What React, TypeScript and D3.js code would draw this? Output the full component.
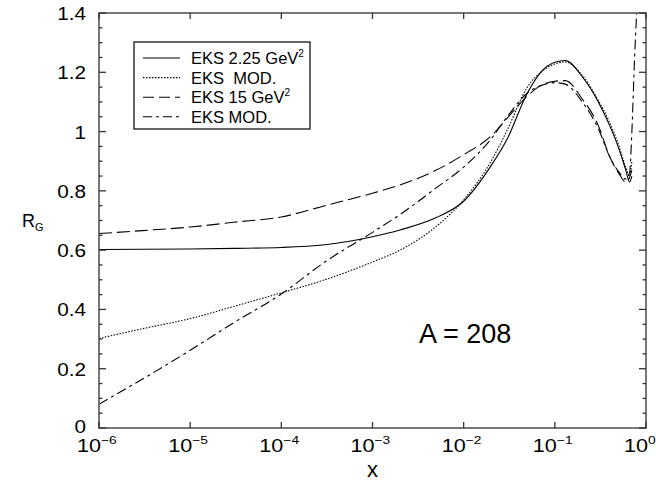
import React, { useRef, useEffect } from 'react';
import * as d3 from 'd3';

// shared x grid (log spaced)
const xGrid = [1e-6, 3e-6, 1e-5, 3e-5, 1e-4, 3e-4, 1e-3, 2e-3, 5e-3, 1e-2, 2e-2, 3e-2, 5e-2, 0.07, 0.1, 0.13, 0.2, 0.3, 0.4, 0.5, 0.6, 0.66, 0.7];

const eks225 = [0.602, 0.603, 0.604, 0.606, 0.609, 0.618, 0.645, 0.668, 0.71, 0.765, 0.885, 0.975, 1.13, 1.2, 1.234, 1.24, 1.185, 1.1, 1.02, 0.945, 0.87, 0.83, 0.85];
const eksMod225 = [0.302, 0.335, 0.369, 0.41, 0.456, 0.5, 0.56, 0.6, 0.68, 0.77, 0.9, 1.005, 1.15, 1.2, 1.228, 1.235, 1.19, 1.105, 1.03, 0.955, 0.88, 0.85, 0.9];
const eks15 = [0.656, 0.666, 0.678, 0.694, 0.712, 0.75, 0.792, 0.82, 0.87, 0.922, 0.985, 1.045, 1.12, 1.155, 1.17, 1.172, 1.11, 1.02, 0.915, 0.86, 0.83, 0.845, 0.87];
const eksMod15 = [0.08, 0.165, 0.262, 0.355, 0.452, 0.56, 0.66, 0.72, 0.81, 0.88, 0.975, 1.05, 1.13, 1.155, 1.165, 1.16, 1.1, 1.01, 0.915, 0.865, 0.84, 0.86, 1.0];
const eksMod15TailX = [0.75, 0.79];
const eksMod15Tail = [1.25, 1.4];

const xTicks = [1e-6, 1e-5, 1e-4, 1e-3, 1e-2, 1e-1, 1];
const yTicks = [0, 0.2, 0.4, 0.6, 0.8, 1, 1.2, 1.4];
const yMinor = d3.range(0, 1.401, 0.05);

const legendLabels = ['EKS 2.25 GeV', 'EKS  MOD.', 'EKS 15 GeV', 'EKS MOD.'];
const dashes = ['none', '1.5,1.5', '13,5', '10,4,3,4'];

export default function App() {
  const svgRef = useRef<SVGSVGElement>(null);
  const width = 656, height = 483;
  const m = { left: 99, right: 10, top: 13, bottom: 55 };

  useEffect(() => {
    const svg = d3.select(svgRef.current);
    svg.selectAll('*').remove();
    const font = "'Liberation Sans', Arial, sans-serif";

    const x = d3.scaleLog().domain([1e-6, 1]).range([m.left, width - m.right]);
    const y = d3.scaleLinear().domain([0, 1.4]).range([height - m.bottom, m.top]);

    svg.append('defs').append('clipPath').attr('id', 'plot')
      .append('rect').attr('x', m.left).attr('y', m.top)
      .attr('width', width - m.left - m.right).attr('height', height - m.top - m.bottom);

    const line = d3.line<[number, number]>()
      .x(d => x(d[0])).y(d => y(d[1]))
      .curve(d3.curveMonotoneX);

    const series = [
      xGrid.map((v, i) => [v, eks225[i]] as [number, number]),
      xGrid.map((v, i) => [v, eksMod225[i]] as [number, number]),
      xGrid.map((v, i) => [v, eks15[i]] as [number, number]),
      xGrid.map((v, i) => [v, eksMod15[i]] as [number, number])
        .concat(eksMod15TailX.map((v, i) => [v, eksMod15Tail[i]] as [number, number])),
    ];

    const g = svg.append('g').attr('clip-path', 'url(#plot)');
    series.forEach((s, i) => {
      g.append('path')
        .attr('d', line(s))
        .attr('fill', 'none')
        .attr('stroke', '#000')
        .attr('stroke-width', 1.1)
        .attr('stroke-dasharray', dashes[i]);
    });

    // frame
    const x0 = m.left, x1 = width - m.right, y0 = height - m.bottom, y1 = m.top;
    svg.append('rect').attr('x', x0).attr('y', y1).attr('width', x1 - x0).attr('height', y0 - y1)
      .attr('fill', 'none').attr('stroke', '#555').attr('stroke-width', 1.6);

    // x ticks (bottom and top, inward)
    const tk = svg.append('g').attr('stroke', '#333').attr('stroke-width', 1.3);
    xTicks.forEach(t => {
      tk.append('line').attr('x1', x(t)).attr('x2', x(t)).attr('y1', y0).attr('y2', y0 - 6);
      tk.append('line').attr('x1', x(t)).attr('x2', x(t)).attr('y1', y1).attr('y2', y1 + 6);
    });
    yMinor.forEach(t => {
      const major = Math.abs(Math.round(t * 5) - t * 5) < 1e-6;
      const len = major ? 7 : 3.5;
      tk.append('line').attr('x1', x0).attr('x2', x0 + len).attr('y1', y(t)).attr('y2', y(t));
      tk.append('line').attr('x1', x1).attr('x2', x1 - len).attr('y1', y(t)).attr('y2', y(t));
    });

    // y tick labels (glyphs a bit wide in the original)
    svg.append('g').selectAll('text').data(yTicks).enter().append('text')
      .attr('transform', d => `translate(${x0 - 13},${y(d) + (d === 0 ? 5 : 7)}) scale(1.12,1)`)
      .attr('text-anchor', 'end')
      .attr('font-family', font).attr('font-size', 18.5).attr('fill', '#000')
      .text(d => d3.format('')(d));

    // x tick labels: 10^n
    xTicks.forEach(t => {
      const txt = svg.append('text')
        .attr('transform', `translate(${x(t) - 22},${y0 + 24}) scale(1.2,1)`)
        .attr('font-family', font).attr('font-size', 18).attr('fill', '#000');
      txt.append('tspan').text('10');
      txt.append('tspan').attr('dy', -8).attr('font-size', 11.5).text(String(Math.round(Math.log10(t))).replace('-', '\u2212'));
    });

    // axis titles, centred on the axes
    svg.append('text').attr('x', (x0 + x1) / 2).attr('y', y0 + 49)
      .attr('text-anchor', 'middle').attr('font-family', font).attr('font-size', 22).text('x');
    const rg = svg.append('text').attr('x', 22).attr('y', (y0 + y1) / 2 + 6)
      .attr('font-family', font).attr('font-size', 18);
    rg.append('tspan').text('R');
    rg.append('tspan').attr('font-size', 11).attr('dy', 4).text('G');

    svg.append('text').attr('x', 419).attr('y', 343)
      .attr('font-family', font).attr('font-size', 27).text('A = 208');

    // legend
    const lg = svg.append('g');
    lg.append('rect').attr('x', 134).attr('y', 42).attr('width', 176).attr('height', 87)
      .attr('fill', '#fff').attr('stroke', '#000').attr('stroke-width', 1.2);
    legendLabels.forEach((lab, i) => {
      const yy = 58 + i * 19.6;
      lg.append('line').attr('x1', 143).attr('x2', 180).attr('y1', yy).attr('y2', yy)
        .attr('stroke', '#000').attr('stroke-width', 1.1)
        .attr('stroke-dasharray', i === 2 ? '11,5' : i === 3 ? '9,4,3,4' : dashes[i]);
      const t = lg.append('text').attr('x', 191).attr('y', yy + 6)
        .attr('font-family', font).attr('font-size', 16.5)
        .style('white-space', 'pre').text(lab);
      if (i === 0 || i === 2) {
        t.append('tspan').attr('dy', -7).attr('font-size', 10).text('2');
      }
    });
  }, []);

  return (
    <svg ref={svgRef} width={width} height={height}
      style={{ position: 'absolute', left: 0, top: 0, background: '#fff' }} />
  );
}
